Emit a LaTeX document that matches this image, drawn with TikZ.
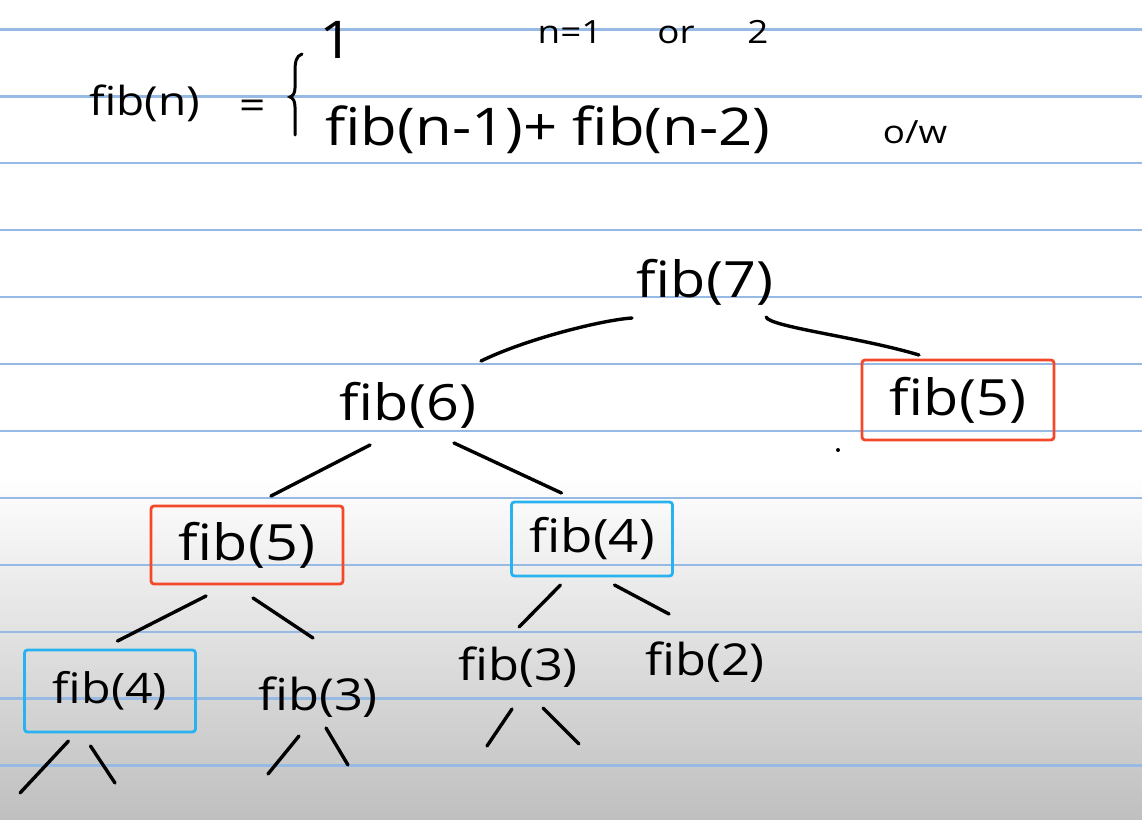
\documentclass[tikz,border=0pt]{standalone}
\usepackage{fontspec}
\newfontfamily\hand[FakeStretch=1.15]{Open Sans}
\definecolor{rulec}{RGB}{150,186,228}
\definecolor{redbox}{RGB}{244,72,42}
\definecolor{bluebox}{RGB}{40,178,240}
\tikzset{
  ink/.style={line width=3.4pt, line cap=round, black},
  rulel/.style={line width=2.2pt, rulec},
  txt/.style={font=\hand\fontsize{#1}{#1}\selectfont, inner sep=0pt, text=black},
  txt/.default=50,
  redb/.style={draw=redbox, line width=2.8pt, rounded corners=3pt, inner sep=0pt},
  blueb/.style={draw=bluebox, line width=2.8pt, rounded corners=3pt, inner sep=0pt},
}
\begin{document}
\begin{tikzpicture}[x=1pt,y=-1pt]
\useasboundingbox (0,0) rectangle (1142,819);
\fill[white] (0,0) rectangle (1142,819);
\shade[top color=white, bottom color=black!25] (0,475) rectangle (1142,819);
\foreach \k in {0,...,11} \draw[rulel] (0,{29.5+66.9*\k}) -- (1142,{29.5+66.9*\k});

% definition
\node[txt=40] (fn) at (145,103) {fib(n)};
\node[txt=40] (eq) at (253,110) {=};
\draw[ink, line width=3pt] (302,54) .. controls (296,56) and (295,62) .. (295,72) -- (295,88)
  .. controls (295,93) and (293,96) .. (290,97) .. controls (293,98) and (295,101) .. (295,107) -- (295,135);
\node[txt=52] (one) at (337,40) {1};
\node[txt=32] (cond) at (570,32) {n=1};
\node[txt=32] (or) at (676,35) {or};
\node[txt=32] (two) at (758,32) {2};
\node[txt=52] (rec) at (548,130) {fib(n-1)+ fib(n-2)};
\node[txt=32] (ow) at (915,132) {o/w};

% tree
\node[txt=50] (fib7) at (705,282) {fib(7)};
\node[txt=50] (fib6) at (408,405) {fib(6)};
\node[redb, minimum width=192pt, minimum height=80pt, txt=50] (fib5R) at (958,400) {fib(5)};
\node[redb, minimum width=192pt, minimum height=78pt, txt=50] (fib5L) at (247,545) {fib(5)};
\node[blueb, minimum width=161pt, minimum height=74pt, txt=46] (fib4M) at (592,539) {fib(4)\hspace{20pt}};
\node[blueb, minimum width=171pt, minimum height=82pt, txt=42] (fib4L) at (110,691) {fib(4)};
\node[txt=44] (fib3L) at (318,697) {fib(3)};
\node[txt=44] (fib3M) at (518,667) {fib(3)};
\node[txt=44] (fib2) at (705,662) {fib(2)};

\coordinate (e41a) at (20,793);
\coordinate (e41b) at (115,783);
\coordinate (e31a) at (268,774);
\coordinate (e31b) at (348,765);
\coordinate (e32a) at (487,746);
\coordinate (e32b) at (579,744);

\draw[ink] ([shift={(-73,36)}]fib7.center) .. controls +(-30,2) and +(45,-22) .. ([shift={(73,-44)}]fib6.center);
\draw[ink] ([shift={(61,35)}]fib7.center) .. controls +(4,10) and +(-60,-18) .. ([shift={(-39,-45)}]fib5R.center);
\draw[ink] ([shift={(-38,40)}]fib6.center) -- ([shift={(24,-49)}]fib5L.center);
\draw[ink] ([shift={(46,38)}]fib6.center) -- ([shift={(-30.5,-46)}]fib4M.center);
\draw[ink] ([shift={(-41,51)}]fib5L.center) -- ([shift={(7.5,-50)}]fib4L.center);
\draw[ink] ([shift={(6,53)}]fib5L.center) -- ([shift={(-5,-59)}]fib3L.center);
\draw[ink] ([shift={(-31.5,46)}]fib4M.center) -- ([shift={(1,-40)}]fib3M.center);
\draw[ink] ([shift={(22.5,46)}]fib4M.center) -- ([shift={(-36,-48)}]fib2.center);
\draw[ink] ([shift={(-41.5,50)}]fib4L.center) -- (e41a);
\draw[ink] ([shift={(-19.5,55)}]fib4L.center) -- (e41b);
\draw[ink] ([shift={(-19,39)}]fib3L.center) -- (e31a);
\draw[ink] ([shift={(8,31)}]fib3L.center) -- (e31b);
\draw[ink] ([shift={(-6,42)}]fib3M.center) -- (e32a);
\draw[ink] ([shift={(25,41)}]fib3M.center) -- (e32b);

\fill[black] (838,450) circle (2pt);
\end{tikzpicture}
\end{document}
